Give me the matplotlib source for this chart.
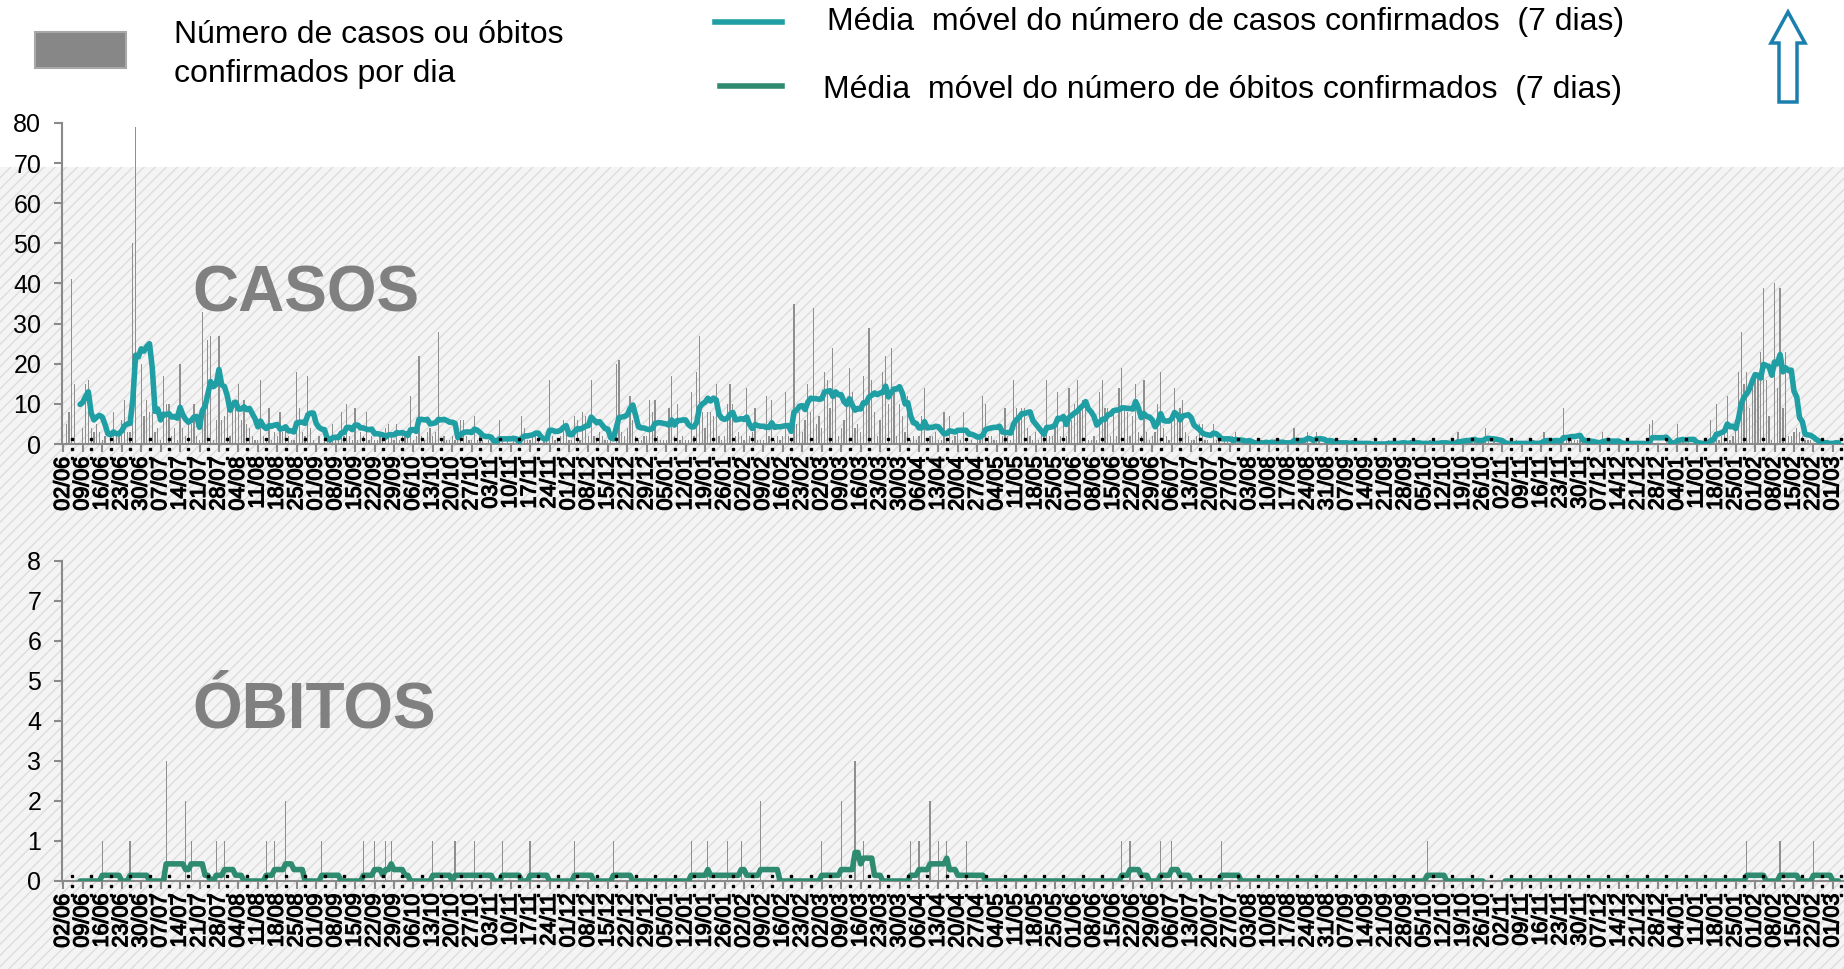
import numpy as np
import pandas as pd
import matplotlib
matplotlib.use('Agg')
import matplotlib.pyplot as plt
import matplotlib.transforms as mtransforms
import matplotlib.patheffects as pe
from matplotlib.patches import Rectangle, Polygon
from matplotlib.lines import Line2D

plt.rcParams['font.family'] = ['Liberation Sans', 'DejaVu Sans']
plt.rcParams['hatch.linewidth'] = 1.0
plt.rcParams['hatch.color'] = '#dddddd'

W, H = 1844, 969

# casos confirmados por dia, a partir de 02/06/2020 (uma linha por semana)
inicio = '2020-06-02'
casos = [
    0, 5, 8, 41, 15, 0, 0,
    4, 15, 16, 4, 3, 5, 3,
    1, 2, 0, 2, 8, 2, 3,
    6, 11, 3, 3, 50, 79, 0,
    20, 7, 11, 8, 8, 3, 4,
    1, 17, 10, 10, 2, 4, 1,
    20, 4, 2, 5, 5, 10, 2,
    1, 33, 10, 26, 27, 1, 6,
    27, 6, 7, 10, 2, 11, 10,
    15, 6, 11, 5, 4, 2, 1,
    1, 16, 2, 1, 9, 1, 3,
    2, 8, 3, 4, 2, 1, 1,
    18, 9, 3, 2, 17, 4, 1,
    0, 2, 0, 1, 1, 2, 5,
    1, 1, 8, 2, 10, 2, 1,
    9, 1, 3, 2, 8, 1, 2,
    1, 1, 2, 1, 4, 5, 2,
    1, 5, 1, 2, 2, 2, 12,
    1, 2, 22, 2, 1, 3, 4,
    2, 3, 28, 1, 2, 1, 1,
    2, 1, 3, 6, 6, 2, 1,
    1, 7, 1, 2, 1, 0, 1,
    0, 0, 1, 6, 1, 0, 1,
    0, 1, 0, 1, 7, 4, 1,
    1, 2, 3, 1, 0, 1, 1,
    16, 2, 1, 1, 2, 6, 4,
    1, 1, 7, 6, 1, 8, 7,
    2, 16, 2, 1, 3, 2, 1,
    1, 1, 0, 20, 21, 3, 2,
    4, 12, 6, 2, 1, 1, 2,
    2, 11, 8, 11, 2, 1, 1,
    1, 9, 17, 2, 10, 1, 2,
    1, 1, 13, 2, 18, 27, 8,
    4, 8, 8, 7, 15, 2, 1,
    2, 10, 15, 10, 2, 3, 2,
    1, 14, 2, 3, 9, 1, 1,
    1, 12, 2, 11, 1, 2, 1,
    2, 13, 2, 1, 35, 5, 8,
    3, 6, 15, 8, 34, 5, 7,
    4, 18, 16, 9, 24, 13, 2,
    4, 6, 11, 19, 13, 4, 5,
    3, 17, 11, 29, 16, 8, 2,
    6, 18, 22, 10, 24, 14, 2,
    10, 7, 3, 12, 1, 2, 1,
    2, 7, 14, 1, 2, 2, 3,
    1, 1, 8, 1, 7, 1, 2,
    4, 1, 8, 1, 0, 1, 0,
    1, 1, 12, 10, 2, 2, 1,
    1, 3, 2, 9, 2, 1, 16,
    9, 7, 9, 9, 4, 2, 1,
    3, 1, 3, 3, 16, 2, 2,
    6, 13, 2, 7, 2, 14, 6,
    10, 16, 8, 11, 9, 1, 1,
    2, 1, 13, 16, 9, 9, 2,
    8, 2, 14, 19, 9, 8, 2,
    7, 15, 3, 2, 16, 3, 1,
    2, 3, 10, 18, 4, 2, 1,
    6, 14, 6, 9, 11, 3, 2,
    1, 1, 2, 5, 5, 1, 1,
    0, 5, 1, 1, 0, 1, 1,
    0, 2, 3, 0, 0, 0, 0,
    1, 0, 0, 1, 0, 0, 1,
    0, 1, 0, 0, 1, 0, 0,
    0, 1, 4, 0, 1, 0, 1,
    3, 0, 1, 3, 1, 0, 0,
    0, 1, 0, 0, 1, 0, 0,
    0, 0, 1, 0, 0, 0, 0,
    0, 0, 0, 0, 0, 0, 0,
    0, 1, 0, 0, 0, 0, 1,
    0, 0, 1, 0, 0, 0, 0,
    0, 0, 1, 0, 0, 0, 1,
    0, 0, 0, 0, 0, 3, 1,
    1, 1, 0, 1, 1, 1, 1,
    1, 4, 1, 0, 1, 0, 0,
    0, 0, 0, 0, 0, 1, 0,
    0, 0, 0, 0, 1, 0, 0,
    1, 3, 1, 0, 0, 1, 0,
    0, 9, 1, 1, 1, 1, 1,
    1, 1, 0, 0, 1, 0, 0,
    0, 3, 1, 1, 0, 0, 0,
    0, 0, 0, 1, 0, 0, 0,
    0, 0, 0, 0, 5, 6, 0,
    0, 0, 0, 1, 0, 0, 0,
    5, 1, 1, 0, 1, 0, 0,
    0, 0, 0, 0, 0, 6, 1,
    10, 1, 2, 3, 12, 1, 2,
    6, 18, 28, 15, 18, 9, 16,
    17, 17, 23, 39, 16, 7, 1,
    40, 14, 39, 9, 23, 2, 2,
    3, 4, 3, 2, 1, 1, 1,
    0, 0, 0, 0, 0, 1, 0,
    0, 1, 0,
]

# óbitos confirmados (dias sem registo = 0)
obitos_datas = [
    '2020-06-16', '2020-06-26', '2020-07-09', '2020-07-16', '2020-07-18',
    '2020-07-27', '2020-07-30', '2020-08-14', '2020-08-17', '2020-08-21',
    '2020-09-03', '2020-09-18', '2020-09-22', '2020-09-26', '2020-09-28',
    '2020-10-13', '2020-10-21', '2020-10-28', '2020-11-07', '2020-11-17',
    '2020-12-03', '2020-12-17', '2021-01-14', '2021-01-20', '2021-01-27',
    '2021-02-01', '2021-02-08', '2021-03-02', '2021-03-09', '2021-03-14',
    '2021-03-17', '2021-04-03', '2021-04-06', '2021-04-10', '2021-04-13',
    '2021-04-16', '2021-04-23', '2021-06-18', '2021-06-21', '2021-07-02',
    '2021-07-06', '2021-07-24', '2021-10-06', '2022-01-29', '2022-02-10',
    '2022-02-22',
]
obitos_valores = [
    1, 1, 3, 2, 1,
    1, 1, 1, 1, 2,
    1, 1, 1, 1, 1,
    1, 1, 1, 1, 1,
    1, 1, 1, 1, 1,
    1, 2, 1, 2, 3,
    1, 1, 1, 2, 1,
    1, 1, 1, 1, 1,
    1, 1, 1, 1, 1,
    1,
]
obitos_sem_dado = ['2021-10-27']

dias = pd.date_range(inicio, periods=len(casos), freq='D')
serie_casos = pd.Series(casos, index=dias, dtype=float)
serie_obitos = (pd.Series(obitos_valores, index=pd.to_datetime(obitos_datas))
                .reindex(dias, fill_value=0).astype(float))
serie_obitos[pd.to_datetime(obitos_sem_dado)] = np.nan
mm_casos = serie_casos.rolling(7).mean()
mm_obitos = serie_obitos.rolling(7).mean()

COR_BARRA = '#8f8f8f'
COR_CASOS = '#1f9ea4'
COR_OBITOS = '#2e8b6f'
COR_EIXO = '#8a8a8a'


def fx(px):
    return px / W


def fy(py):
    return 1 - py / H


fig = plt.figure(figsize=(W / 100, H / 100), dpi=100)

# fundo tracejado
fundo = Rectangle((0, 0), 1, fy(167), transform=fig.transFigure,
                  facecolor='#f4f4f4', edgecolor='#dddddd', hatch='///',
                  linewidth=0, zorder=-10)
fig.patches.append(fundo)

x0 = dias[0] - pd.Timedelta(hours=12)
x1 = dias[0] + pd.Timedelta(days=641)
semanas = dias[::7]
rotulo_fx = [pe.withStroke(linewidth=0.9, foreground='black')]


def montar(ax, serie, mm, cor, ymax, passo, altura_px):
    ax.patch.set_visible(False)
    ax.bar(serie.index, serie.fillna(0).values, width=0.45, color=COR_BARRA,
           linewidth=0, zorder=2)
    ax.plot(mm.index, mm.values, color=cor, lw=4.0, solid_joinstyle='round',
            solid_capstyle='round', zorder=3)
    ax.set_xlim(x0, x1)
    ax.set_ylim(0, ymax)
    ax.set_yticks(np.arange(0, ymax + passo / 2, passo))
    ax.set_xticks(semanas)
    rot = ax.set_xticklabels([d.strftime('%d/%m') for d in semanas],
                             rotation=90, fontsize=15.5)
    for t in rot:
        t.set_path_effects(rotulo_fx)
    ax.tick_params(axis='y', labelsize=18, length=6, width=1.5,
                   color=COR_EIXO, pad=9)
    ax.tick_params(axis='x', length=6, width=1.5, color=COR_EIXO, pad=3)
    for lado in ('top', 'right'):
        ax.spines[lado].set_visible(False)
    for lado in ('left', 'bottom'):
        ax.spines[lado].set_color(COR_EIXO)
        ax.spines[lado].set_linewidth(1.5)
    # pontos de referência semanais junto ao eixo
    trans = mtransforms.blended_transform_factory(ax.transData, ax.transAxes)
    meio = semanas + pd.Timedelta(days=3)
    for off in (5, -4.5, -14):
        ax.plot(meio, np.full(len(meio), off / altura_px), ls='none',
                marker='s', ms=1.7, color='black', transform=trans,
                clip_on=False, zorder=4)


ax1 = fig.add_axes([fx(62), fy(444), fx(1782), (444 - 123) / H])
montar(ax1, serie_casos, mm_casos, COR_CASOS, 80, 10, 321)
ax1.text(fx(192), fy(312), 'CASOS', transform=fig.transFigure, fontsize=46,
         fontweight='bold', color='#808080', va='baseline', zorder=5)

ax2 = fig.add_axes([fx(62), fy(881), fx(1782), (881 - 561) / H])
montar(ax2, serie_obitos, mm_obitos, COR_OBITOS, 8, 1, 320)
ax2.text(fx(192), fy(728), 'ÓBITOS', transform=fig.transFigure, fontsize=46,
         fontweight='bold', color='#808080', va='baseline', zorder=5)

# legenda
fig.patches.append(Rectangle((fx(35), fy(68)), fx(91), (68 - 32) / H,
                             transform=fig.transFigure, facecolor='#878787',
                             edgecolor='#a8a8a8', linewidth=1.5))
fig.text(fx(174), fy(35), 'Número de casos ou óbitos', fontsize=23,
         va='center', ha='left')
fig.text(fx(174), fy(74), 'confirmados por dia', fontsize=23,
         va='center', ha='left')
fig.add_artist(Line2D([fx(715), fx(782)], [fy(22), fy(22)], color=COR_CASOS,
                      lw=4, transform=fig.transFigure))
fig.add_artist(Line2D([fx(720), fx(782)], [fy(86), fy(86)], color=COR_OBITOS,
                      lw=4, transform=fig.transFigure))
fig.text(fx(827), fy(22), 'Média  móvel do número de casos confirmados  (7 dias)',
         fontsize=23, va='center', ha='left')
fig.text(fx(823), fy(90), 'Média  móvel do número de óbitos confirmados  (7 dias)',
         fontsize=23, va='center', ha='left')

# seta
seta = [(1788, 12), (1805, 43), (1797, 43), (1797, 102), (1779, 102),
        (1779, 43), (1771, 43)]
fig.patches.append(Polygon([(fx(a), fy(b)) for a, b in seta], closed=True,
                           transform=fig.transFigure, facecolor='white',
                           edgecolor='#1b7fae', linewidth=2.5))

fig.savefig('out.png', dpi=100)
